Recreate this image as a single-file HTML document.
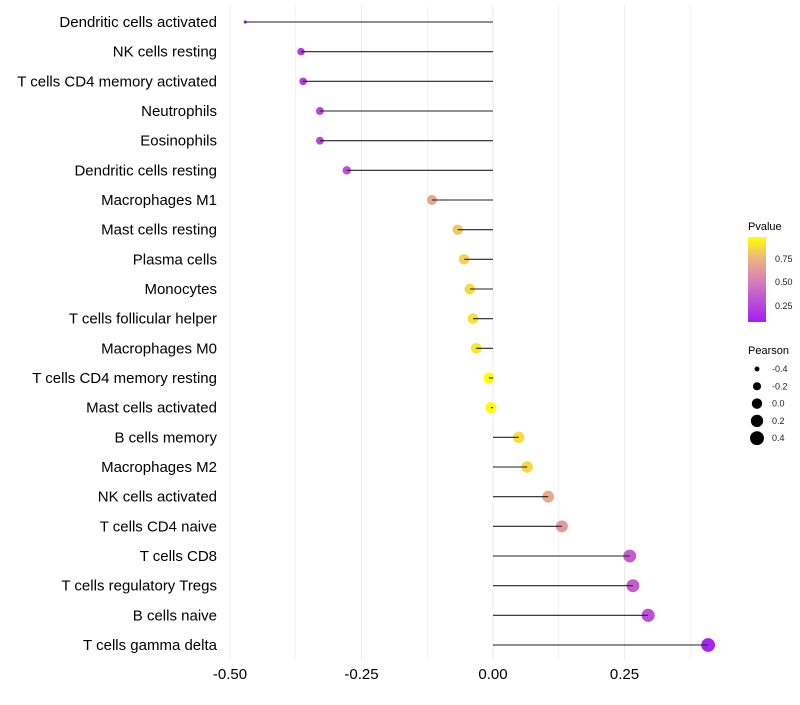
<!DOCTYPE html>
<html><head><meta charset="utf-8"><style>
body{margin:0;background:#fff;font-family:"Liberation Sans",sans-serif}
</style></head><body>
<svg id="chart" width="800" height="700" xmlns="http://www.w3.org/2000/svg">
<defs><linearGradient id="pg" x1="0" y1="1" x2="0" y2="0">
<stop offset="0" stop-color="#a31ef2"/><stop offset="0.3" stop-color="#c25ad0"/><stop offset="0.5" stop-color="#d883b4"/><stop offset="0.75" stop-color="#edb581"/><stop offset="1" stop-color="#ffff00"/></linearGradient></defs>
<g id="grid"></g><g id="dots"></g><g id="stems"></g><g id="labels"></g>
<g>
<text x="748" y="230" font-size="11" fill="#000">Pvalue</text>
<rect x="748" y="237" width="18" height="85" fill="url(#pg)"/>
<text x="775" y="262" font-size="9" fill="#222">0.75</text>
<text x="775" y="285" font-size="9" fill="#222">0.50</text>
<text x="775" y="309" font-size="9" fill="#222">0.25</text>
</g>
<g id="sizeLegend">
<text x="748" y="354" font-size="11" fill="#000">Pearson</text>
</g>
</svg>
<script>
const categories=["Dendritic cells activated","NK cells resting","T cells CD4 memory activated","Neutrophils","Eosinophils","Dendritic cells resting","Macrophages M1","Mast cells resting","Plasma cells","Monocytes","T cells follicular helper","Macrophages M0","T cells CD4 memory resting","Mast cells activated","B cells memory","Macrophages M2","NK cells activated","T cells CD4 naive","T cells CD8","T cells regulatory  Tregs","B cells naive","T cells gamma delta"];
const pearson=[-0.471,-0.365,-0.361,-0.329,-0.329,-0.278,-0.116,-0.067,-0.055,-0.044,-0.038,-0.032,-0.008,-0.004,0.049,0.065,0.105,0.131,0.260,0.266,0.295,0.409];
const pvalues=[0.05,0.2,0.2,0.24,0.24,0.3,0.68,0.8,0.83,0.86,0.88,0.9,0.98,0.99,0.87,0.85,0.7,0.62,0.35,0.35,0.3,0.1];
const xTicks=[-0.5,-0.25,0,0.25];
const xTickLabels=["-0.50","-0.25","0.00","0.25"];
const sizeLegendVals=[-0.4,-0.2,0,0.2,0.4];
const sizeLegendLabels=["-0.4","-0.2","0.0","0.2","0.4"];
const NS="http://www.w3.org/2000/svg";
const x=v=>493+v*526;
const y=i=>22+i*29.667;
const r=v=>v<-0.45?1.6:Math.sqrt(Math.max(1,30+44*v));
const rl=v=>Math.sqrt(Math.max(1,27.2+53.1*v));
const stops=[[0,[163,30,242]],[0.3,[194,90,208]],[0.5,[216,131,180]],[0.75,[237,181,129]],[1,[255,255,0]]];
function col(p){const t=(p-0.07)/0.9;const c=Math.max(0,Math.min(1,t));for(let k=1;k<stops.length;k++){if(c<=stops[k][0]){const a=stops[k-1],b=stops[k];const f=(c-a[0])/(b[0]-a[0]);return "rgb("+a[1].map((q,j)=>Math.round(q+(b[1][j]-q)*f)).join(",")+")";}}return "rgb(255,255,0)";}
function mk(t,at){const e=document.createElementNS(NS,t);for(const k in at)e.setAttribute(k,at[k]);return e;}
const grid=document.getElementById("grid"),dots=document.getElementById("dots"),stems=document.getElementById("stems"),labels=document.getElementById("labels");
for(let v=-0.5;v<=0.4;v+=0.125){const g=mk("line",{x1:x(v),x2:x(v),y1:5,y2:660,stroke:"#ebebeb","stroke-width":Math.abs(v*4-Math.round(v*4))<1e-6?1:0.6});


grid.appendChild(g);}
xTicks.forEach((v,i)=>{const t=mk("text",{x:x(v),y:679,"font-size":15,"text-anchor":"middle",fill:"#000"});t.textContent=xTickLabels[i];


labels.appendChild(t);});
categories.forEach((c,i)=>{
const t=mk("text",{x:217,y:y(i)+5,"font-size":15,"text-anchor":"end",fill:"#000"});t.textContent=c;


labels.appendChild(t);
const d=mk("circle",{cx:x(pearson[i]),cy:y(i),r:r(pearson[i]),fill:col(pvalues[i])});


dots.appendChild(d);
const l=mk("line",{x1:x(0),x2:x(pearson[i]),y1:y(i),y2:y(i),stroke:"#222","stroke-width":1.1});


stems.appendChild(l);
});
const sl=document.getElementById("sizeLegend");
sizeLegendVals.forEach((v,i)=>{const cy=369+i*17.3;
const d=mk("circle",{cx:757,cy:cy,r:rl(v),fill:"#000"});


sl.appendChild(d);
const t=mk("text",{x:772,y:cy+3,"font-size":9,fill:"#222"});t.textContent=sizeLegendLabels[i];


sl.appendChild(t);});
</script>
</body></html>
